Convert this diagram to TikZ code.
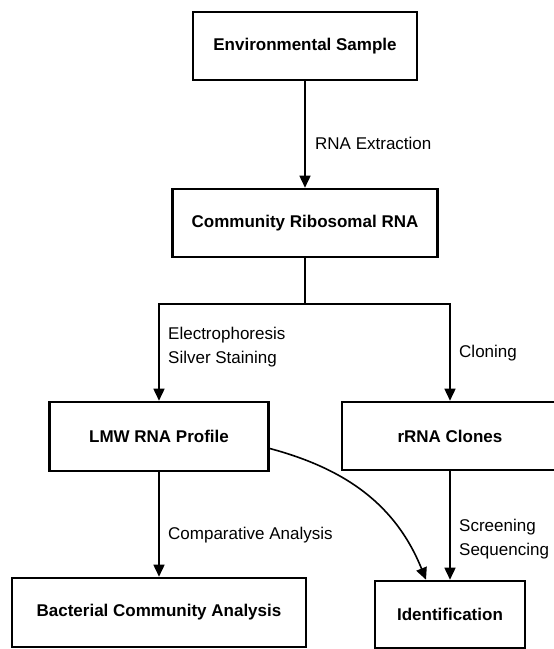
\documentclass[tikz,border=0pt]{standalone}
\usepackage{fontspec}
\setmainfont{Liberation Sans}
\usetikzlibrary{arrows.meta}

\begin{document}
\begin{tikzpicture}[x=1pt,y=-1pt,
  box/.style={draw,line width=2.6pt,inner sep=0pt,font=\fontsize{17}{20}\selectfont\bfseries},
  note/.style={anchor=west,align=left,inner sep=0pt,font=\fontsize{17}{24}\selectfont},
  flow/.style={line width=1.6pt},
  >={Triangle[length=12pt,width=11pt]}]
\useasboundingbox (0,0) rectangle (554,649);
% boxes
\node[box,minimum width=224pt,minimum height=68pt] (env) at (305,46) {Environmental Sample};
\node[box,minimum width=265pt,minimum height=68pt] (crna) at (305,223) {Community Ribosomal RNA};
\node[box,minimum width=219pt,minimum height=69pt] (lmw) at (159,436.5) {LMW RNA Profile};
\node[box,minimum width=216pt,minimum height=68pt] (clones) at (450,436) {rRNA Clones};
\node[box,minimum width=294pt,minimum height=69pt] (bca) at (159,612.5) {Bacterial Community Analysis};
\node[box,minimum width=150pt,minimum height=67pt] (ident) at (450,614.5) {Identification};
\coordinate (split) at (305,304);
% connectors
\draw[flow,->] (env) -- (crna);
\draw[flow] (crna) -- (split);
\draw[flow,->] (split) -| (lmw);
\draw[flow,->] (split) -| (clones);
\draw[flow,->] (lmw) -- (bca);
\draw[flow,->] (clones) -- (ident);
\draw[flow,->] ([yshift=-12pt]lmw.east) to[out=-15,in=112] ([xshift=-24pt]ident.north);
% step labels
\node[note] (extr) at (315,143) {RNA Extraction};
\node[note] (elec) at (168,347) {Electrophoresis\\Silver Staining};
\node[note] (clon) at (459,353) {Cloning};
\node[note] (comp) at (168,535) {Comparative Analysis};
\node[note] (scrn) at (459,539) {Screening\\Sequencing};
\end{tikzpicture}
\end{document}
